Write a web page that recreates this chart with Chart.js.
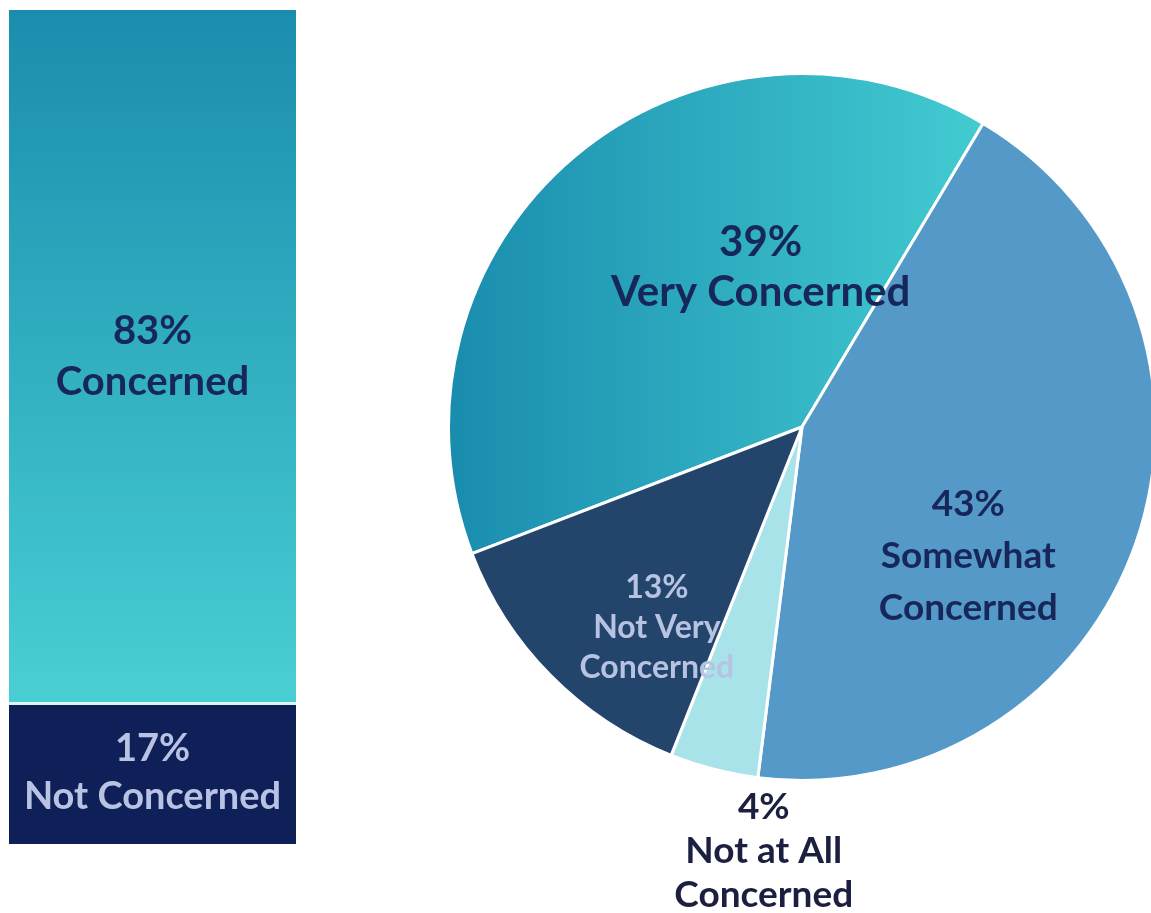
<!doctype html>
<html lang="en">

<head>
  <meta charset="utf-8">
  <title>Concern</title>
  <style>
    html, body { margin: 0; padding: 0; background: #fff; overflow: hidden; }
    #bar-box { position: absolute; left: 9px; top: 10px; }
    #pie-box { position: absolute; left: 447px; top: 0px; }
  </style>
</head>

<body>

  <div id="bar-box"><canvas id="bar-chart" width="287" height="834"></canvas></div>
  <div id="pie-box"><canvas id="pie-chart" width="710" height="913"></canvas></div>

  <script src="https://cdn.jsdelivr.net/npm/chart.js"></script>

  <script>
    // data
    const barCategories = ['Concerned', 'Not Concerned'];
    const barValues = [83, 17];

    const pieCategories = ['Very Concerned', 'Somewhat Concerned', 'Not at All Concerned', 'Not Very Concerned'];
    const pieValues = [39, 43, 4, 13];
    const pieLabelLines = [['Very Concerned'], ['Somewhat', 'Concerned'], ['Not at All', 'Concerned'], ['Not Very', 'Concerned']];

    const FONT = 'Lato, "Open Sans", sans-serif';
    const NAVY_TEXT = '#17275A';
    const LIGHT_TEXT = '#B8C3E4';

    function drawLines(ctx, lines, cx, cy, size, gap, color) {
      ctx.save();
      ctx.font = 'bold ' + size + 'px ' + FONT;
      ctx.fillStyle = color;
      ctx.textAlign = 'center';
      ctx.textBaseline = 'middle';
      const top = cy - (lines.length - 1) * gap / 2;
      lines.forEach((l, i) => ctx.fillText(l, cx, top + i * gap));
      ctx.restore();
    }

    // ---------- stacked bar ----------
    const barLabels = {
      id: 'barLabels',
      afterDatasetsDraw(chart) {
        const ctx = chart.ctx;
        const style = [
          { color: NAVY_TEXT, size: 40, gap: 51 },
          { color: LIGHT_TEXT, size: 38, gap: 48 }
        ];
        chart.data.datasets.forEach((ds, i) => {
          const bar = chart.getDatasetMeta(i).data[0];
          const p = bar.getProps(['x', 'y', 'base'], true);
          const s = style[barCategories.indexOf(ds.label)];
          drawLines(ctx, [ds.data[0] + '%', ds.label], p.x, (p.y + p.base) / 2, s.size, s.gap, s.color);
        });
      }
    };

    function barGradient(c) {
      const area = c.chart.chartArea;
      if (!area) return '#2FB0C5';
      const g = c.chart.ctx.createLinearGradient(0, area.top, 0, area.top + area.height * 0.8);
      g.addColorStop(0, '#1A8DAE');
      g.addColorStop(1, '#47CDD2');
      return g;
    }

    new Chart(document.getElementById('bar-chart'), {
      type: 'bar',
      data: {
        labels: [''],
        datasets: [
          {
            label: barCategories[1],
            data: [barValues[1]],
            backgroundColor: '#0F1F57',
            borderColor: '#DDF3F6',
            borderWidth: { top: 3, left: 0, right: 0, bottom: 0 },
            borderSkipped: false
          },
          {
            label: barCategories[0],
            data: [barValues[0]],
            backgroundColor: barGradient,
            borderWidth: 0
          }
        ]
      },
      options: {
        responsive: false,
        animation: false,
        devicePixelRatio: 1,
        layout: { padding: 0 },
        datasets: { bar: { barPercentage: 1, categoryPercentage: 1 } },
        scales: {
          x: { stacked: true, display: false },
          y: { stacked: true, display: false, min: 0, max: 100 }
        },
        plugins: {
          legend: { display: false },
          tooltip: { enabled: false }
        }
      },
      plugins: [barLabels]
    });

    // ---------- pie ----------
    const pieLabels = {
      id: 'pieLabels',
      afterDatasetsDraw(chart) {
        const ctx = chart.ctx;
        // where along the slice (0..1) and how far out (x radius)
        const style = [
          { along: 0.68, out: 0.465, size: 42, gap: 50, color: NAVY_TEXT },
          { along: 0.62, out: 0.595, size: 37, gap: 52, color: NAVY_TEXT },
          { along: -0.14, out: 1.205, size: 37, gap: 44, color: '#1C2040' },
          { along: 0.3, out: 0.7, size: 32, gap: 40, color: LIGHT_TEXT }
        ];
        chart.getDatasetMeta(0).data.forEach((arc, i) => {
          const p = arc.getProps(['x', 'y', 'startAngle', 'endAngle', 'outerRadius'], true);
          const s = style[i];
          const a = p.startAngle + s.along * (p.endAngle - p.startAngle);
          const r = s.out * p.outerRadius;
          const lines = [pieValues[i] + '%'].concat(pieLabelLines[i]);
          drawLines(ctx, lines, p.x + Math.cos(a) * r, p.y + Math.sin(a) * r, s.size, s.gap, s.color);
        });
      }
    };

    const pieColors = [null, '#5499C7', '#A9E3EA', '#23456B'];

    function pieFill(c) {
      if (c.dataIndex !== 0) return pieColors[c.dataIndex];
      const area = c.chart.chartArea;
      if (!area) return '#2FB0C5';
      const g = c.chart.ctx.createLinearGradient(area.left, 0, area.left + 650, 0);
      g.addColorStop(0, '#198CAE');
      g.addColorStop(1, '#4CD9D9');
      return g;
    }

    new Chart(document.getElementById('pie-chart'), {
      type: 'pie',
      data: {
        labels: pieCategories,
        datasets: [{
          data: pieValues,
          backgroundColor: pieFill,
          borderColor: '#ffffff',
          borderWidth: 3
        }]
      },
      options: {
        responsive: false,
        animation: false,
        devicePixelRatio: 1,
        rotation: 249,
        layout: { padding: { top: 72, bottom: 131, left: 0, right: 0 } },
        plugins: {
          legend: { display: false },
          tooltip: { enabled: false }
        }
      },
      plugins: [pieLabels]
    });
  </script>

</body>

</html>
